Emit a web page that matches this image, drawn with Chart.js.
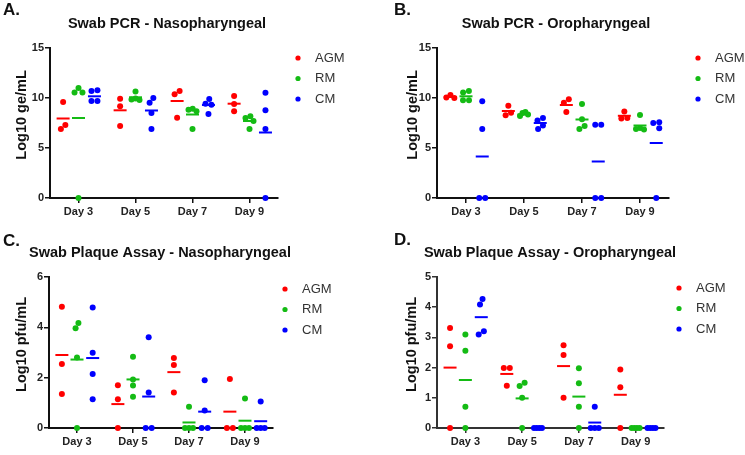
<!DOCTYPE html>
<html>
<head>
<meta charset="utf-8">
<script src="https://cdn.jsdelivr.net/npm/chart.js@4.4.1/dist/chart.umd.min.js"></script>
<style>
  body { margin: 0; background: #fff; }
  #wrap { position: relative; width: 745px; height: 455px; background: #fff; }
  canvas { position: absolute; }
</style>
</head>
<body>
<div id="wrap">
  <canvas id="pA" width="372" height="228" style="left:0px;top:0px"></canvas>
  <canvas id="pB" width="373" height="228" style="left:372px;top:0px"></canvas>
  <canvas id="pC" width="372" height="227" style="left:0px;top:228px"></canvas>
  <canvas id="pD" width="373" height="227" style="left:372px;top:228px"></canvas>
</div>
<script>
const days = ['Day 3', 'Day 5', 'Day 7', 'Day 9'];
const groups = ['AGM', 'RM', 'CM'];
const groupColors = ['#ff0000', '#14bb14', '#0000ff'];

// Swab PCR - Nasopharyngeal (Log10 ge/mL), one inner array per day
const pcrNasoAGM = [[9.6, 7.3, 6.9], [9.93, 9.17, 7.2], [10.7, 10.37, 8.03], [10.2, 9.4, 8.67]];
const pcrNasoRM = [[11.0, 10.55, 10.55, 0], [10.65, 9.95, 9.85, 9.8], [8.93, 8.83, 8.67, 6.9], [8.17, 8.0, 7.7, 6.9]];
const pcrNasoCM = [[10.77, 10.7, 9.7, 9.7], [10.0, 9.53, 8.5, 6.9], [9.9, 9.43, 9.33, 8.4], [10.53, 8.77, 6.9, 0]];
const pcrNasoMeans = [[7.95, 8.77, 9.7, 9.43], [8.0, 10.07, 8.35, 7.7], [10.17, 8.75, 9.3, 6.55]];

// Swab PCR - Oropharyngeal (Log10 ge/mL)
const pcrOroAGM = [[10.3, 10.05, 10.0], [9.23, 8.53, 8.27], [9.87, 9.53, 8.6], [8.65, 8.0, 7.95]];
const pcrOroRM = [[10.7, 10.55, 9.77, 9.77], [8.6, 8.5, 8.35, 8.2], [9.4, 7.87, 7.2, 6.9], [8.3, 7.0, 6.9, 6.85]];
const pcrOroCM = [[9.67, 6.9, 0, 0], [8.0, 7.75, 7.25, 6.9], [7.33, 7.33, 0, 0], [7.57, 7.5, 6.97, 0]];
const pcrOroMeans = [[10.1, 8.7, 9.3, 8.22], [10.17, 8.35, 7.85, 7.25], [4.15, 7.5, 3.65, 5.5]];

// Swab Plaque Assay - Nasopharyngeal (Log10 pfu/mL)
const plaqueNasoAGM = [[4.82, 2.54, 1.35], [1.7, 1.14, 0], [2.78, 2.5, 1.41], [1.95, 0, 0]];
const plaqueNasoRM = [[4.17, 3.96, 2.8, 0], [2.83, 1.93, 1.69, 1.24], [0.84, 0, 0, 0], [1.17, 0, 0, 0]];
const plaqueNasoCM = [[4.79, 2.99, 2.15, 1.14], [3.61, 1.41, 0, 0], [1.9, 0.7, 0, 0], [1.05, 0, 0, 0]];
const plaqueNasoMeans = [[2.9, 0.95, 2.22, 0.65], [2.72, 1.93, 0.22, 0.29], [2.78, 1.25, 0.65, 0.27]];

// Swab Plaque Assay - Oropharyngeal (Log10 pfu/mL)
const plaqueOroAGM = [[3.31, 2.71, 0], [1.99, 1.99, 1.4], [2.74, 2.42, 1.0], [1.94, 1.35, 0]];
const plaqueOroRM = [[3.1, 2.56, 0.7, 0], [1.5, 1.39, 1.0, 0], [1.98, 1.48, 0.7, 0], [0, 0, 0, 0]];
const plaqueOroCM = [[4.27, 4.09, 3.2, 3.1], [0, 0, 0, 0], [0.7, 0, 0, 0], [0, 0, 0, 0]];
const plaqueOroMeans = [[2.0, 1.79, 2.05, 1.1], [1.59, 0.98, 1.04, 0], [3.67, 0, 0.18, 0]];

const fontFam = 'Arial, "Liberation Sans", sans-serif';
const groupShift = [-0.27, 0, 0.28];

// spread dots that would overlap, like a column scatter (pixel units)
function swarm(vals, pxY) {
  const D = 6, maxSpan = 8;
  const xs = vals.map(() => 0);
  const order = vals.map((v, i) => i).sort((a, b) => vals[b] - vals[a]);
  const placed = [];
  order.forEach(i => {
    const y = vals[i] * pxY;
    const cands = [0];
    placed.forEach(j => {
      const dy = Math.abs(vals[j] * pxY - y);
      if (dy < D) {
        const dx = Math.sqrt(D * D - dy * dy);
        cands.push(xs[j] - dx, xs[j] + dx);
      }
    });
    cands.sort((a, b) => Math.abs(a) - Math.abs(b) || a - b);
    const ok = cands.find(c => placed.every(j => {
      const dy = vals[j] * pxY - y;
      const dx = xs[j] - c;
      return dx * dx + dy * dy >= D * D - 0.01;
    }));
    xs[i] = ok;
    placed.push(i);
  });
  // re-centre each touching cluster and squeeze wide ones
  let cluster = [order[0]];
  const finish = c => {
    const lo = Math.min(...c.map(i => xs[i]));
    const hi = Math.max(...c.map(i => xs[i]));
    const mid = (lo + hi) / 2;
    const k = hi - lo > maxSpan ? maxSpan / (hi - lo) : 1;
    c.forEach(i => { xs[i] = (xs[i] - mid) * k; });
  };
  for (let n = 1; n < order.length; n++) {
    const prev = order[n - 1], cur = order[n];
    if ((vals[prev] - vals[cur]) * pxY < D) cluster.push(cur);
    else { finish(cluster); cluster = [cur]; }
  }
  finish(cluster);
  return xs;
}

// panel letter, title and legend
const panelDeco = {
  id: 'panelDeco',
  afterDraw(chart, args, o) {
    const ctx = chart.ctx;
    ctx.save();
    ctx.fillStyle = '#111';
    ctx.font = 'bold 17px ' + fontFam;
    ctx.textBaseline = 'alphabetic';
    ctx.fillText(o.letter, o.letterX, o.letterY);

    ctx.font = 'bold 14.5px ' + fontFam;
    ctx.textAlign = 'center';
    ctx.textBaseline = 'middle';
    ctx.fillText(o.title, o.titleX, o.titleY);

    ctx.textAlign = 'left';
    ctx.font = '13px ' + fontFam;
    groups.forEach((g, i) => {
      const y = o.legendY + i * 20.5;
      ctx.fillStyle = groupColors[i];
      ctx.beginPath();
      ctx.arc(o.legendX, y, 2.6, 0, Math.PI * 2);
      ctx.fill();
      ctx.fillStyle = '#333';
      ctx.fillText(g, o.legendX + 17, y);
    });
    ctx.restore();
  }
};

const panels = [
  { id: 'pA', letter: 'A.', letterX: 3, letterY: 15, title: 'Swab PCR - Nasopharyngeal', yTitle: 'Log10 ge/mL',
    yMax: 15, yStep: 5, series: [pcrNasoAGM, pcrNasoRM, pcrNasoCM], means: pcrNasoMeans,
    w: 372, h: 228, area: { l: 50, r: 278, t: 48, b: 198 }, titleX: 167, titleY: 24, yTitleX: 22,
    legendX: 298, legendY: 58, axis: '#111' },
  { id: 'pB', letter: 'B.', letterX: 22, letterY: 15, title: 'Swab PCR - Oropharyngeal', yTitle: 'Log10 ge/mL',
    yMax: 15, yStep: 5, series: [pcrOroAGM, pcrOroRM, pcrOroCM], means: pcrOroMeans,
    w: 373, h: 228, area: { l: 65, r: 297, t: 48, b: 198 }, titleX: 184, titleY: 24, yTitleX: 41,
    legendX: 326, legendY: 58, axis: '#111' },
  { id: 'pC', letter: 'C.', letterX: 3, letterY: 18, title: 'Swab Plaque Assay - Nasopharyngeal', yTitle: 'Log10 pfu/mL',
    yMax: 6, yStep: 2, series: [plaqueNasoAGM, plaqueNasoRM, plaqueNasoCM], means: plaqueNasoMeans,
    w: 372, h: 227, area: { l: 49, r: 273, t: 49, b: 200 }, titleX: 160, titleY: 25, yTitleX: 22,
    legendX: 285, legendY: 61, axis: '#111' },
  { id: 'pD', letter: 'D.', letterX: 22, letterY: 17, title: 'Swab Plaque Assay - Oropharyngeal', yTitle: 'Log10 pfu/mL',
    yMax: 5, yStep: 1, series: [plaqueOroAGM, plaqueOroRM, plaqueOroCM], means: plaqueOroMeans,
    w: 373, h: 227, area: { l: 65, r: 292, t: 49, b: 200 }, titleX: 178, titleY: 25, yTitleX: 40,
    legendX: 307, legendY: 60, axis: '#333' }
];

function drawPanel(p) {
  const pxX = (p.area.r - p.area.l) / 4;
  const pxY = (p.area.b - p.area.t) / p.yMax;
  const datasets = [];

  p.series.forEach((series, g) => {
    const pts = [];
    series.forEach((vals, d) => {
      const offs = swarm(vals, pxY);
      vals.forEach((v, k) => pts.push({ x: d + groupShift[g] + offs[k] / pxX, y: v }));
    });
    datasets.push({
      label: groups[g],
      data: pts,
      pointBackgroundColor: groupColors[g],
      pointBorderWidth: 0,
      pointRadius: 3,
      clip: false
    });
  });

  p.means.forEach((m, g) => {
    datasets.push({
      label: groups[g] + ' mean',
      data: m.map((v, d) => ({ x: d + groupShift[g], y: v })),
      pointStyle: 'line',
      pointRadius: 6.5,
      pointBorderColor: groupColors[g],
      pointBorderWidth: 2,
      clip: false
    });
  });

  const tickFont = { family: fontFam, size: 11, weight: 'bold' };

  new Chart(document.getElementById(p.id), {
    type: 'scatter',
    data: { datasets: datasets },
    plugins: [panelDeco],
    options: {
      responsive: false,
      animation: false,
      events: [],
      layout: { padding: { left: 0, right: p.w - p.area.r, top: p.area.t, bottom: 0 }, autoPadding: false },
      plugins: {
        legend: { display: false },
        tooltip: { enabled: false },
        title: { display: false },
        panelDeco: {
          letter: p.letter, letterX: p.letterX, letterY: p.letterY,
          title: p.title, titleX: p.titleX, titleY: p.titleY,
          legendX: p.legendX, legendY: p.legendY
        }
      },
      scales: {
        x: {
          type: 'linear',
          min: -0.5,
          max: 3.5,
          afterBuildTicks: s => { s.ticks = days.map((_, i) => ({ value: i })); },
          afterFit: s => { s.height = p.h - p.area.b; },
          ticks: { callback: v => days[v], color: '#222', font: tickFont, padding: 2, autoSkip: false, maxRotation: 0 },
          grid: { drawOnChartArea: false, tickLength: 5, color: p.axis, lineWidth: 1.5 },
          border: { color: p.axis, width: 2 }
        },
        y: {
          min: 0,
          max: p.yMax,
          afterFit: s => { s.width = p.area.l; },
          ticks: { stepSize: p.yStep, color: '#222', font: tickFont, padding: 1 },
          grid: { drawOnChartArea: false, tickLength: 5, color: p.axis, lineWidth: 1.5 },
          border: { color: p.axis, width: 2 },
          title: {
            display: true,
            text: '    ' + p.yTitle,
            color: '#111',
            font: { family: fontFam, size: 14.5, weight: 'bold' },
            padding: { top: p.yTitleX - 8.7, bottom: 0 }
          }
        }
      }
    }
  });
}

panels.forEach(drawPanel);
</script>
</body>
</html>
